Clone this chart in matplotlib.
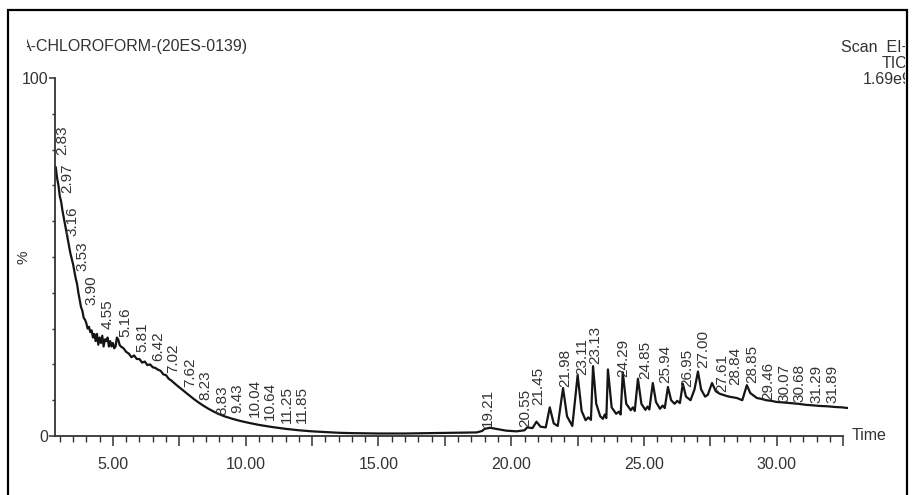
import matplotlib
matplotlib.use("Agg")
from matplotlib import pyplot as plt
from matplotlib.patches import Rectangle
from matplotlib.transforms import Bbox, TransformedBbox
from matplotlib.ticker import FixedLocator, FuncFormatter

# retention time (min) and relative abundance (%) of the TIC trace
time_min = [
    2.85, 2.90, 2.95, 3.00, 3.05, 3.10, 3.20, 3.30, 3.40, 3.50, 3.60, 3.65, 3.70, 3.80,
    3.85, 3.90, 3.95, 4.00, 4.05, 4.10, 4.15, 4.20, 4.25, 4.30, 4.35, 4.40, 4.45, 4.50,
    4.55, 4.60, 4.65, 4.70, 4.75, 4.80, 4.85, 4.90, 4.95, 5.00, 5.05, 5.10, 5.15, 5.20,
    5.25, 5.30, 5.40, 5.50, 5.60, 5.70, 5.80, 5.90, 6.00, 6.10, 6.20, 6.30, 6.40, 6.50,
    6.60, 6.70, 6.80, 6.90, 7.00, 7.10, 7.20, 7.40, 7.60, 7.80, 8.00, 8.20, 8.40, 8.60,
    8.80, 9.00, 9.20, 9.50, 9.80, 10.10, 10.50, 11.00, 11.50, 12.00, 12.50, 13.00, 13.50,
    14.00, 15.00, 16.00, 17.00, 18.00, 18.70, 18.90, 19.00, 19.20, 19.50, 19.80, 20.20,
    20.50, 20.60, 20.80, 20.95, 21.10, 21.30, 21.45, 21.60, 21.75, 21.95, 22.10, 22.30,
    22.50, 22.65, 22.80, 22.90, 23.00, 23.08, 23.20, 23.35, 23.45, 23.52, 23.58, 23.64,
    23.78, 23.95, 24.05, 24.12, 24.20, 24.33, 24.50, 24.58, 24.65, 24.77, 24.90, 25.05,
    25.13, 25.20, 25.33, 25.45, 25.60, 25.70, 25.78, 25.90, 26.02, 26.15, 26.25, 26.35,
    26.46, 26.58, 26.75, 26.90, 27.03, 27.15, 27.30, 27.40, 27.56, 27.70, 27.85, 27.97,
    28.10, 28.20, 28.35, 28.50, 28.70, 28.87, 29.00, 29.25, 29.40, 29.60, 29.80, 30.00,
    30.20, 30.50, 30.80, 31.10, 31.30, 31.60, 31.90, 32.20, 32.45, 32.70,
]
abundance = [
    75.0, 72.0, 70.0, 67.0, 65.5, 63.0, 59.0, 55.0, 51.0, 48.0, 44.0, 42.5, 40.0, 36.0,
    35.0, 33.0, 32.5, 31.5, 30.0, 30.5, 29.0, 29.5, 27.5, 28.5, 26.5, 28.5, 25.5, 27.5,
    26.0, 28.0, 25.0, 27.0, 26.5, 27.5, 25.0, 26.5, 25.0, 26.0, 24.5, 25.0, 27.5, 27.0,
    25.5, 25.0, 24.5, 23.5, 23.0, 22.0, 22.5, 21.5, 21.5, 20.5, 20.8, 19.8, 20.0, 19.2,
    19.0, 18.5, 18.2, 17.2, 17.0, 16.0, 15.5, 14.2, 13.0, 11.8, 10.6, 9.5, 8.5, 7.6,
    6.8, 6.1, 5.5, 4.8, 4.2, 3.7, 3.1, 2.5, 2.0, 1.6, 1.3, 1.1, 0.9,
    0.8, 0.7, 0.7, 0.8, 0.9, 1.0, 1.4, 2.0, 2.3, 1.9, 1.5, 1.3,
    1.6, 2.4, 2.2, 4.0, 2.6, 2.4, 8.0, 3.5, 2.8, 13.4, 5.5, 2.8,
    17.0, 7.0, 4.4, 5.2, 4.5, 19.5, 9.0, 5.5, 4.8, 6.0, 5.0, 18.6,
    8.0, 6.2, 6.8, 6.0, 17.8, 9.0, 7.2, 8.0, 7.0, 16.0, 9.0, 7.3,
    8.2, 7.4, 14.8, 9.5, 7.6, 8.5, 7.8, 13.7, 10.0, 9.0, 9.8, 9.2,
    14.6, 11.0, 10.0, 13.0, 18.0, 13.0, 11.0, 11.5, 14.8, 12.5, 11.8, 11.5,
    11.2, 11.0, 10.8, 10.6, 10.0, 14.2, 12.0, 10.6, 10.4, 10.0, 9.8, 9.5,
    9.4, 9.2, 9.0, 8.7, 8.6, 8.4, 8.3, 8.1, 8.0, 7.8,
]

# peak annotations: text, where it sits (min) and the level of its foot (%)
peak_labels = [
    "2.83", "2.97", "3.16", "3.53", "3.90", "4.55", "5.16", "5.81", "6.42", "7.02",
    "7.62", "8.23", "8.83", "9.43", "10.04", "10.64", "11.25", "11.85",
    "19.21", "20.55", "21.45", "21.98", "23.11", "23.13", "24.29", "24.85", "25.94",
    "26.95", "27.00", "27.61", "28.84", "28.85", "29.46", "30.07", "30.68", "31.29", "31.89",
]
label_t = [
    3.08, 3.27, 3.46, 3.84, 4.21, 4.82, 5.46, 6.10, 6.70, 7.26,
    7.90, 8.47, 9.11, 9.67, 10.35, 10.91, 11.55, 12.12,
    19.12, 20.52, 21.00, 22.02, 22.66, 23.15, 24.21, 25.03, 25.79,
    26.62, 27.22, 27.93, 28.42, 29.06, 29.66, 30.30, 30.87, 31.51, 32.11,
]
label_y = [
    78.5, 68.0, 56.0, 46.0, 36.6, 30.0, 27.7, 23.5, 21.0, 17.6,
    13.7, 10.0, 5.9, 6.4, 5.3, 4.5, 3.6, 3.6,
    2.5, 2.5, 8.6, 13.7, 17.0, 20.0, 16.5, 16.0, 14.8,
    13.7, 19.0, 12.3, 14.2, 14.8, 10.0, 9.5, 9.5, 9.2, 9.2,
]

narrow = ["Liberation Sans Narrow", "Liberation Sans", "DejaVu Sans"]
regular = ["Liberation Sans", "DejaVu Sans"]
ink = "#151515"

fig = plt.figure(figsize=(9.15, 4.95), dpi=100)
W, H = 915, 495

# outer frame (its bottom edge lies below the scan)
fig.patches.append(Rectangle((8 / W, -10 / H), 899 / W, 495 / H, transform=fig.transFigure,
                             fill=False, edgecolor="black", linewidth=1.6))

ax = fig.add_axes([55 / W, 59 / H, 793 / W, 358 / H])
ax.plot(time_min, abundance, color=ink, linewidth=1.6)
ax.set_xlim(2.82, 32.68)
ax.set_ylim(0, 100)

for s in ["top", "right"]:
    ax.spines[s].set_visible(False)
for s in ["left", "bottom"]:
    ax.spines[s].set_color("#333333")
    ax.spines[s].set_linewidth(1.3)
ax.spines["bottom"].set_bounds(2.82, 32.5)

ax.xaxis.set_major_locator(FixedLocator([5, 7.5, 10, 12.5, 15, 17.5, 20, 22.5, 25, 27.5, 30, 32.5]))
ax.xaxis.set_minor_locator(FixedLocator([3 + 0.5 * i for i in range(60)]))
ax.xaxis.set_major_formatter(FuncFormatter(lambda v, p: "%.2f" % v if v % 5 == 0 else ""))
ax.tick_params(axis="x", which="major", length=7, width=1.1, direction="out", color="#333333", pad=8)
ax.tick_params(axis="x", which="minor", length=4, width=1.0, direction="out", color="#333333")

ax.yaxis.set_major_locator(FixedLocator([0, 100]))
ax.yaxis.set_minor_locator(FixedLocator([10, 20, 30, 40, 50, 60, 70, 80, 90]))
ax.tick_params(axis="y", which="major", length=4, width=1.1, direction="out", color="#333333", pad=1)
ax.tick_params(axis="y", which="minor", length=2.5, width=1.0, direction="out", color="#333333")
for lab in ax.get_xticklabels() + ax.get_yticklabels():
    lab.set_fontfamily(narrow)
    lab.set_fontsize(11.5)
    lab.set_color("#333333")

for txt, t, y in zip(peak_labels, label_t, label_y):
    ax.text(t, y, txt, rotation=90, ha="center", va="bottom", fontsize=11,
            family=regular, color="#333333")

ax.text(-0.04, 0.5, "%", transform=ax.transAxes, rotation=90, ha="center", va="center",
        fontsize=11, family=narrow, color="#333333")
ax.text(1.005, 0.0, "Time", transform=ax.transAxes, ha="left", va="center",
        fontsize=11.5, family=narrow, color="#333333")

# header texts, cut by the edges of the scan
clip = TransformedBbox(Bbox([[27 / W, 0], [905 / W, 1]]), fig.transFigure)
head = [
    fig.text(21 / W, 1 - 47 / H, "A-CHLOROFORM-(20ES-0139)", ha="left", va="center"),
    fig.text(915 / W, 1 - 47 / H, "Scan  EI+ ", ha="right", va="center"),
    fig.text(907 / W, 1 - 64 / H, "TIC", ha="right", va="center"),
    fig.text(912 / W, 1 - 80 / H, "1.69e9", ha="right", va="center"),
]
for h in head:
    h.set_fontfamily(narrow)
    h.set_fontsize(11.5)
    h.set_color("#333333")
    h.set_clip_box(clip)
    h.set_clip_on(True)

fig.savefig("out.png", dpi=100)
